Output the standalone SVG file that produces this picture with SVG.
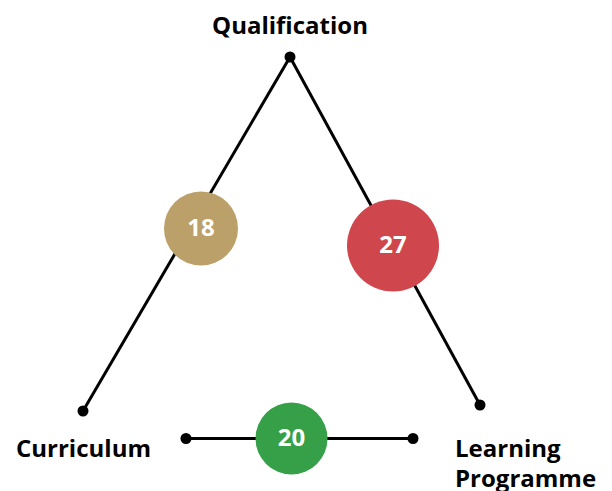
<svg xmlns="http://www.w3.org/2000/svg" width="612" height="491" viewBox="0 0 612 491">
<style>
.edge{stroke:#000;stroke-width:3;fill:none}
.dot{fill:#000}
.lbl{font-family:"Open Sans","Noto Sans","Liberation Sans",sans-serif;font-weight:bold;font-size:24px;fill:#000}
.num{font-family:"Open Sans","Noto Sans","Liberation Sans",sans-serif;font-weight:bold;font-size:24px;fill:#fff;text-anchor:middle}
</style>
<rect width="612" height="491" fill="#fff"/>
<g id="connectors">
<line class="edge" x1="290" y1="57" x2="83" y2="411"/>
<line class="edge" x1="290" y1="57" x2="480" y2="405"/>
<line class="edge" x1="186" y1="438.5" x2="413" y2="438.5"/>
<circle class="dot" cx="290" cy="57" r="5.5"/>
<circle class="dot" cx="83" cy="411" r="5.5"/>
<circle class="dot" cx="480" cy="405" r="5.5"/>
<circle class="dot" cx="186" cy="438.5" r="5.5"/>
<circle class="dot" cx="413" cy="438.5" r="5.5"/>
</g>
<g id="qualification"><text class="lbl" x="290" y="34" text-anchor="middle">Qualification</text></g>
<g id="curriculum"><text class="lbl" x="16" y="457">Curriculum</text></g>
<g id="learning-programme"><text class="lbl" x="455" y="457">Learning</text><text class="lbl" x="455" y="487">Programme</text></g>
<g id="n18"><circle cx="201" cy="228.5" r="37" fill="#BBA06A"/><text class="num" x="201" y="235.5">18</text></g>
<g id="n27"><circle cx="393" cy="245.5" r="46" fill="#CF464C"/><text class="num" x="393" y="252.5">27</text></g>
<g id="n20"><circle cx="291.5" cy="438.5" r="36" fill="#35A048"/><text class="num" x="291.5" y="445.5">20</text></g>
</svg>
